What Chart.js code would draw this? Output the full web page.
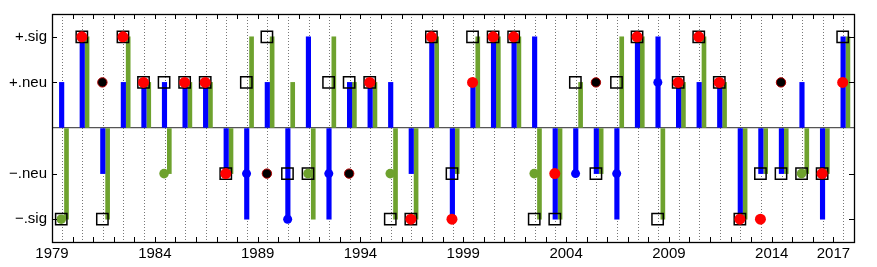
<!DOCTYPE html>
<html>
<head>
<meta charset="utf-8">
<script src="https://cdn.jsdelivr.net/npm/chart.js@4"></script>
<style>
  html, body { margin: 0; padding: 0; background: #fff; }
  #wrap { width: 877px; height: 267px; }
</style>
</head>
<body>
<div id="wrap"><canvas id="myChart"></canvas></div>
<script>
// years (one cell per year)
var years = [1979,1980,1981,1982,1983,1984,1985,1986,1987,1988,
             1989,1990,1991,1992,1993,1994,1995,1996,1997,1998,
             1999,2000,2001,2002,2003,2004,2005,2006,2007,2008,
             2009,2010,2011,2012,2013,2014,2015,2016,2017];
var xLabels = [1979,1984,1989,1994,1999,2004,2009,2014,2017];
var yTicks = [-2,-1,0,1,2];
var yLabels = {'2':'+.sig','1':'+.neu','-1':'\u2212.neu','-2':'\u2212.sig'};

// 2 = +.sig, 1 = +.neu, -1 = -.neu, -2 = -.sig, null = none
var blueBar  = [1,2,-1,1,1,1,1,1,-1,-2, 1,-2,2,-2,1,1,1,-1,2,-2, 1,2,2,2,-2,-1,-1,-2,2,2, 1,1,1,-2,-1,-1,1,-2,2];
var greenBar = [-2,2,-2,2,1,-1,1,1,-1,2, 2,1,-2,2,1,1,-2,-2,2,-1, 2,2,2,-2,-2,1,-1,2,2,-2, 1,2,1,-2,-1,-1,-1,-1,2];
var squares  = [-2,2,-2,2,1,1,1,1,-1,1, 2,-1,-1,1,1,1,-2,-2,2,-1, 2,2,2,-2,-2,1,-1,1,2,-2, 1,2,1,-2,-1,-1,-1,-1,2];
var redDots  = [null,2,null,2,1,null,1,1,-1,null, null,null,null,null,null,1,null,-2,2,-2,
                1,2,2,null,-1,null,null,null,2,null, 1,2,1,-2,-2,null,null,-1,1];
var blackDots= [null,null,1,null,null,null,null,null,null,null, -1,null,null,null,-1,null,null,null,null,null,
                null,null,null,null,null,null,1,null,null,null, null,null,null,null,null,1,null,null,null];
var greenDots= [-2,null,null,null,null,-1,null,null,null,null, null,null,-1,null,null,null,-1,null,null,null,
                null,null,null,-1,null,null,null,null,null,null, null,null,null,null,null,null,-1,null,null];
var blueDots = [null,null,null,null,null,null,null,null,null,-1, null,-2,null,-1,null,null,null,null,null,null,
                null,null,null,null,null,-1,null,-1,null,1, null,null,null,null,null,null,null,null,null];

function pts(arr, off) {
  var out = [];
  for (var i = 0; i < years.length; i++) {
    if (arr[i] !== null) out.push({x: years[i] + off, y: arr[i]});
  }
  return out;
}

var BLUE = '#0000ff', GREEN = '#6ea22e', RED = '#ff0000';
var fontSpec = {family: '"Liberation Sans", Arial, sans-serif', size: 15};

// frame + inward tick marks
var frame = {
  id: 'frame',
  afterDraw: function(chart) {
    var c = chart.ctx, a = chart.chartArea;
    var xs = chart.scales.x, ys = chart.scales.y;
    c.save();
    c.strokeStyle = '#000';
    c.lineWidth = 1;
    c.beginPath();
    for (var yr = 1980; yr <= 2017; yr++) {
      var px = Math.round(xs.getPixelForValue(yr)) + 0.5;
      c.moveTo(px, a.top); c.lineTo(px, a.top + 5);
      c.moveTo(px, a.bottom); c.lineTo(px, a.bottom - 5);
    }
    [-2,-1,1,2].forEach(function(v) {
      var py = Math.round(ys.getPixelForValue(v)) + 0.5;
      c.moveTo(a.left, py); c.lineTo(a.left + 5, py);
      c.moveTo(a.right, py); c.lineTo(a.right - 5, py);
    });
    c.stroke();
    c.lineWidth = 1.3;
    c.strokeRect(Math.round(a.left) + 0.5, Math.round(a.top) + 0.5,
                 Math.round(a.right - a.left), Math.round(a.bottom - a.top));
    c.restore();
  }
};

new Chart('myChart', {
  type: 'bar',
  data: {
    datasets: [
      {label: 'blue', data: pts(blueBar, 0.47), backgroundColor: BLUE, barThickness: 4.5, grouped: false, order: 10},
      {label: 'green', data: pts(greenBar, 0.705), backgroundColor: GREEN, barThickness: 4, grouped: false, order: 11},
      {type: 'scatter', label: 'sq', data: pts(squares, 0.45), pointStyle: 'rect', pointRadius: 8,
       backgroundColor: 'rgba(0,0,0,0)', borderColor: '#000', pointBorderWidth: 1.5, order: 5},
      {type: 'scatter', label: 'gdot', data: pts(greenDots, 0.45), pointRadius: 4.8,
       backgroundColor: GREEN, borderColor: GREEN, pointBorderWidth: 0, order: 4},
      {type: 'scatter', label: 'bdot', data: pts(blueDots, 0.46), pointRadius: 4.5,
       backgroundColor: BLUE, borderColor: BLUE, pointBorderWidth: 0, order: 4},
      {type: 'scatter', label: 'kdot', data: pts(blackDots, 0.45), pointRadius: 4.7,
       backgroundColor: '#000', borderColor: '#b00000', pointBorderWidth: 1, order: 3},
      {type: 'scatter', label: 'red', data: pts(redDots, 0.45), pointRadius: 5.5,
       backgroundColor: RED, borderColor: RED, pointBorderWidth: 0, order: 2}
    ]
  },
  options: {
    responsive: true,
    maintainAspectRatio: false,
    animation: false,
    layout: {padding: {left: 0, right: 23, top: 14, bottom: 0}},
    plugins: {legend: {display: false}, tooltip: {enabled: false}},
    scales: {
      x: {
        type: 'linear',
        min: 1979, max: 2018,
        offset: false,
        afterFit: function(s) { s.height = 25; },
        ticks: {
          stepSize: 1, autoSkip: false, maxRotation: 0, padding: 3,
          color: '#000', font: fontSpec,
          callback: function(v) { return xLabels.indexOf(v) >= 0 ? String(v) : ''; }
        },
        grid: {color: '#777', lineWidth: 1, drawTicks: false},
        border: {display: false, dash: [1, 2]}
      },
      y: {
        min: -2.5, max: 2.5,
        afterFit: function(s) { s.width = 52; },
        afterBuildTicks: function(s) { s.ticks = yTicks.map(function(v) { return {value: v}; }); },
        ticks: {
          padding: 5, color: '#000', font: fontSpec,
          callback: function(v) { return yLabels[String(v)] || ''; }
        },
        grid: {
          drawTicks: false, lineWidth: 1.2,
          color: function(ctx) { return ctx.tick && ctx.tick.value === 0 ? '#555' : 'rgba(0,0,0,0)'; }
        },
        border: {display: false}
      }
    }
  },
  plugins: [frame]
});
</script>
</body>
</html>
